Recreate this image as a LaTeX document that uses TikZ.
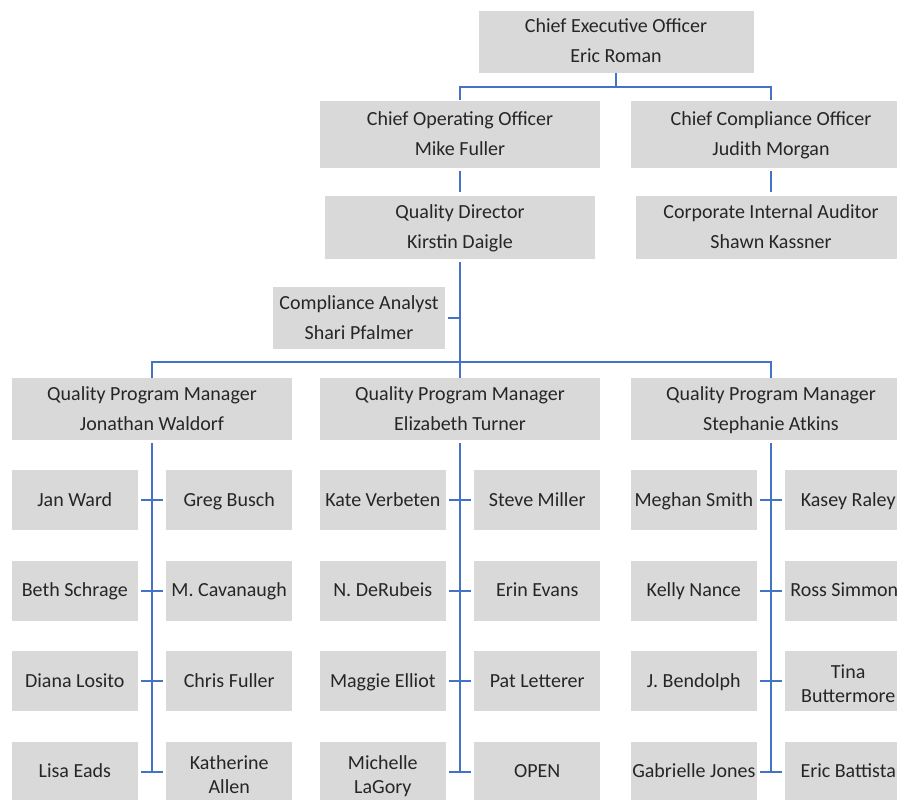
\documentclass[tikz,border=0pt]{standalone}
\usepackage{fontspec}
\setmainfont{Carlito}
\usetikzlibrary{positioning}
\definecolor{boxgray}{HTML}{D9D9D9}
\definecolor{linkblue}{HTML}{4472C4}

\begin{document}
\begin{tikzpicture}[
  x=1pt, y=-1pt,
  post/.style={fill=boxgray, inner sep=0pt, align=center, text=black!85, font=\fontsize{20}{30}\selectfont,
    text height=46pt, text depth=4pt},
  lead/.style={post, minimum width=280pt, minimum height=64pt},
  member/.style={post, minimum width=126pt, minimum height=60pt, font=\fontsize{20}{24}\selectfont,
    text height=16pt, text depth=4pt},
  pair/.style={text height=47pt, text depth=4pt},
  link/.style={draw=linkblue, line width=2pt},
  gap/.style={shorten <=3pt, shorten >=3pt}
]
\useasboundingbox (0,0) rectangle (897,800);
\clip (0,0) rectangle (897,800);

% Executive boxes
\node[post, minimum width=275pt, minimum height=62pt] (ceo) at (616,42) {Chief Executive Officer\\Eric Roman};
\node[lead, minimum height=67pt] (coo) at (460,134) {Chief Operating Officer\\Mike Fuller};
\node[lead, minimum height=67pt] (cco) at (771,134) {Chief Compliance Officer\\Judith Morgan};
\node[lead, minimum width=270pt, minimum height=63pt] (qd) at (460,227) {Quality Director\\Kirstin Daigle};
\node[lead, minimum width=270pt, minimum height=63pt] (cia) at (771,227) {Corporate Internal Auditor\\Shawn Kassner};
\node[post, minimum width=172pt, minimum height=62pt] (analyst) at (359,318) {Compliance Analyst\\Shari Pfalmer};

% Program managers
\node[lead, minimum height=62pt] (qpm1) at (152,409) {Quality Program Manager\\Jonathan Waldorf};
\node[lead, minimum height=62pt] (qpm2) at (460,409) {Quality Program Manager\\Elizabeth Turner};
\node[lead, minimum height=62pt] (qpm3) at (771,409) {Quality Program Manager\\Stephanie Atkins};

% Waldorf team
\node[member, below left=30pt and 14pt of qpm1.south] (ward) {Jan Ward};
\node[member, below right=30pt and 14pt of qpm1.south] (busch) {Greg Busch};
\node[member, below=30pt of ward] (schrage) {Beth Schrage};
\node[member, below=30pt of busch] (cavanaugh) {M. Cavanaugh};
\node[member, below=30pt of schrage] (losito) {Diana Losito};
\node[member, below=30pt of cavanaugh] (cfuller) {Chris Fuller};
\node[member, below=30pt of losito] (eads) {Lisa Eads};
\node[member, pair, below=30pt of cfuller] (allen) {Katherine\\Allen};

% Turner team
\node[member, below left=30pt and 14pt of qpm2.south] (verbeten) {Kate Verbeten};
\node[member, below right=30pt and 14pt of qpm2.south] (miller) {Steve Miller};
\node[member, below=30pt of verbeten] (derubeis) {N. DeRubeis};
\node[member, below=30pt of miller] (evans) {Erin Evans};
\node[member, below=30pt of derubeis] (elliot) {Maggie Elliot};
\node[member, below=30pt of evans] (letterer) {Pat Letterer};
\node[member, pair, below=30pt of elliot] (lagory) {Michelle\\LaGory};
\node[member, below=30pt of letterer] (open) {OPEN};

% Atkins team
\node[member, below left=30pt and 14pt of qpm3.south] (smith) {Meghan Smith};
\node[member, below right=30pt and 14pt of qpm3.south] (raley) {Kasey Raley};
\node[member, below=30pt of smith] (nance) {Kelly Nance};
\node[member, below=30pt of raley] (simmons) {Ross Simmons};
\node[member, below=30pt of nance] (bendolph) {J. Bendolph};
\node[member, pair, below=30pt of simmons] (buttermore) {Tina\\Buttermore};
\node[member, below=30pt of bendolph] (jones) {Gabrielle Jones};
\node[member, below=30pt of buttermore] (battista) {Eric Battista};

% Reporting lines
\coordinate (ceobus) at (616,87);
\coordinate (qdbus) at (460,362);
\draw[link] (ceo.south) -- (ceobus) -| (coo.north);
\draw[link] (ceobus) -| (cco.north);
\draw[link, gap] (coo) -- (qd);
\draw[link, gap] (cco) -- (cia);
\draw[link, shorten <=3pt] (qd) -- (qdbus);
\draw[link, shorten <=3pt] (analyst.east) -- (analyst.east -| qd.south);
\draw[link] (qdbus) -| (qpm1.north);
\draw[link] (qdbus) -| (qpm3.north);
\draw[link] (qdbus) -- (qpm2.north);

% Team lines
\draw[link, shorten <=3pt] (qpm1) -- (qpm1.south |- eads.east);
\draw[link, gap] (ward) -- (busch);
\draw[link, gap] (schrage) -- (cavanaugh);
\draw[link, gap] (losito) -- (cfuller);
\draw[link, gap] (eads) -- (allen);

\draw[link, shorten <=3pt] (qpm2) -- (qpm2.south |- lagory.east);
\draw[link, gap] (verbeten) -- (miller);
\draw[link, gap] (derubeis) -- (evans);
\draw[link, gap] (elliot) -- (letterer);
\draw[link, gap] (lagory) -- (open);

\draw[link, shorten <=3pt] (qpm3) -- (qpm3.south |- jones.east);
\draw[link, gap] (smith) -- (raley);
\draw[link, gap] (nance) -- (simmons);
\draw[link, gap] (bendolph) -- (buttermore);
\draw[link, gap] (jones) -- (battista);

\end{tikzpicture}
\end{document}
